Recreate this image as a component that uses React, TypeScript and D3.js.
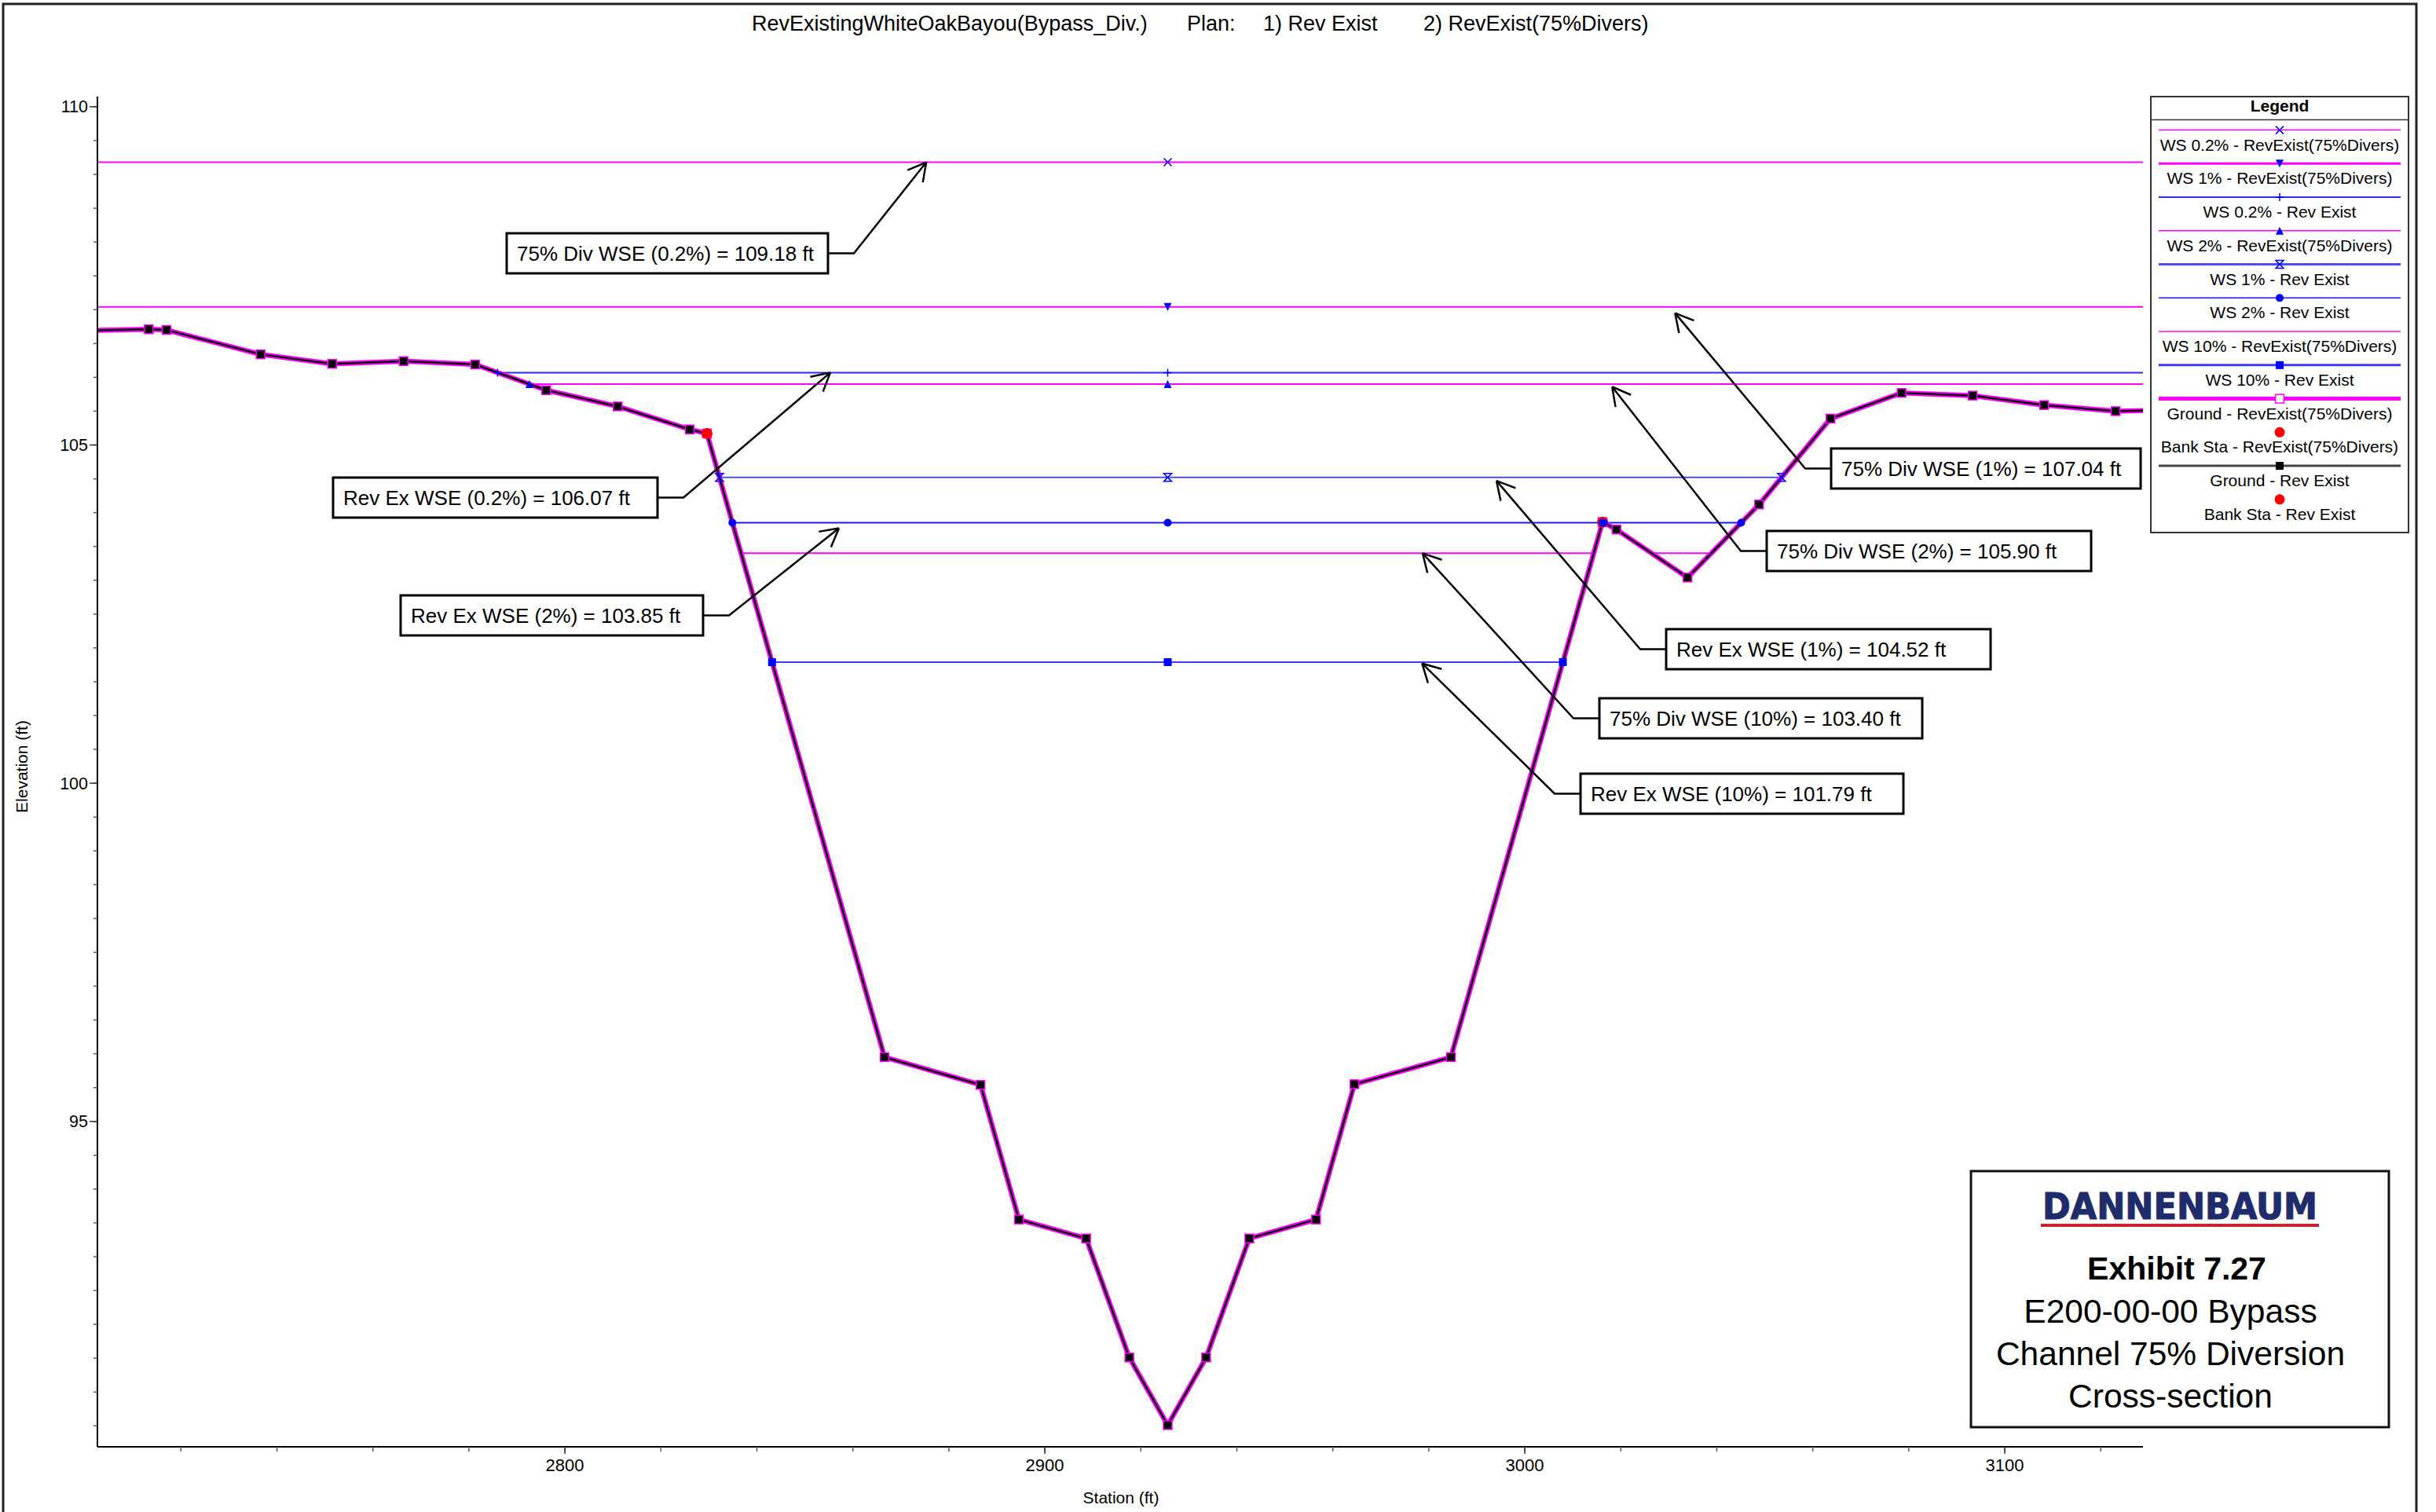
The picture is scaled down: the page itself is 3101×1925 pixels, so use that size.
import * as d3 from 'd3'

// ground profile (both plans share the same ground)
const stations = [2698, 2713.3, 2717.0, 2736.6, 2751.5, 2766.4, 2781.3, 2796.1, 2811.0, 2826.0, 2829.6, 2866.6, 2886.6, 2894.6, 2908.6, 2917.6, 2925.6, 2933.6, 2942.6, 2956.5, 2964.5, 2984.6, 3016.2, 3019.1, 3033.9, 3048.8, 3063.7, 3078.5, 3093.3, 3108.2, 3123.1, 3138]
const groundElev = [106.69, 106.71, 106.70, 106.34, 106.20, 106.24, 106.19, 105.81, 105.57, 105.23, 105.17, 95.95, 95.54, 93.55, 93.27, 91.51, 90.51, 91.51, 93.27, 93.55, 95.55, 95.95, 103.86, 103.75, 103.04, 104.12, 105.39, 105.77, 105.73, 105.59, 105.50, 105.52]
const bankStations = [2829.6, 3016.2]
const bankElevs = [105.17, 103.86]

// water surfaces
const wsLabels = ['WS 0.2% - RevExist(75%Divers)', 'WS 1% - RevExist(75%Divers)', 'WS 0.2% - Rev Exist', 'WS 2% - RevExist(75%Divers)', 'WS 1% - Rev Exist', 'WS 2% - Rev Exist', 'WS 10% - RevExist(75%Divers)', 'WS 10% - Rev Exist']
const wsElevs = [109.18, 107.04, 106.07, 105.9, 104.52, 103.85, 103.4, 101.79]

// callouts
const noteTexts = ['75% Div WSE (0.2%) = 109.18 ft', 'Rev Ex WSE (0.2%) = 106.07 ft', 'Rev Ex WSE (2%) = 103.85 ft', '75% Div WSE (1%) = 107.04 ft', '75% Div WSE (2%) = 105.90 ft', 'Rev Ex WSE (1%) = 104.52 ft', '75% Div WSE (10%) = 103.40 ft', 'Rev Ex WSE (10%) = 101.79 ft']
const noteTipSta = [2875.3, 2855.3, 2857.1, 3031.3, 3018.2, 2994.1, 2978.7, 2978.6]
const noteTipElev = [109.18, 106.07, 103.77, 106.95, 105.86, 104.47, 103.4, 101.77]

const xTicks = [2800, 2900, 3000, 3100]
const yTicks = [95, 100, 105, 110]

const titleParts = ['RevExistingWhiteOakBayou(Bypass_Div.)', 'Plan:', '1) Rev Exist', '2) RevExist(75%Divers)']
const exhibitLines = ['E200-00-00 Bypass', 'Channel 75% Diversion', 'Cross-section']

// ---- layout / styles ----
const W = 3101
const H = 1925
const FONT = '"Liberation Sans", Arial, sans-serif'
const MAG = '#ff00ff'
const wsStyle = [
  { color: MAG, width: 2, lw: 1.5, marker: 'x' },
  { color: MAG, width: 2, lw: 3, marker: 'tdown' },
  { color: '#2a2aff', width: 2, lw: 2, marker: 'plus' },
  { color: MAG, width: 2, lw: 1.5, marker: 'tup' },
  { color: '#4b4bff', width: 2, lw: 3, marker: 'hour' },
  { color: '#1a1aff', width: 2, lw: 1.5, marker: 'circle' },
  { color: MAG, width: 2, lw: 1.5, marker: 'none' },
  { color: '#3a3aff', width: 2, lw: 3, marker: 'square' },
]
const titleX = [957, 1511, 1608, 1812]
const noteBoxes = [
  [645, 297, 409], [424, 608, 413], [510, 758, 385], [2331, 571, 394],
  [2249, 676, 413], [2121, 801, 413], [2036, 889, 411], [2012, 985, 411],
]

const x = d3.scaleLinear().domain([2702.6, 3128.8]).range([124, 2728])
const y = d3.scaleLinear().domain([90.19, 110.15]).range([1842, 123])

// spans of a water surface where the ground lies below it
function wetSegments(wse: number) {
  const segs: [number, number][] = []
  let cur: number | null = groundElev[0] < wse ? stations[0] : null
  for (let i = 1; i < stations.length; i++) {
    const wet = groundElev[i] < wse
    const wasWet = groundElev[i - 1] < wse
    if (wet !== wasWet) {
      const t = (wse - groundElev[i - 1]) / (groundElev[i] - groundElev[i - 1])
      const s = stations[i - 1] + t * (stations[i] - stations[i - 1])
      if (wet) cur = s
      else {
        segs.push([cur as number, s])
        cur = null
      }
    }
  }
  if (cur !== null) segs.push([cur, stations[stations.length - 1]])
  return segs
}

function Marker({ type, cx, cy, color = '#0000ff' }: { type: string; cx: number; cy: number; color?: string }) {
  const s = 5
  switch (type) {
    case 'x':
      return <path d={`M${cx - s},${cy - s}L${cx + s},${cy + s}M${cx - s},${cy + s}L${cx + s},${cy - s}`} stroke={color} strokeWidth={1.5} />
    case 'plus':
      return <path d={`M${cx - s},${cy}L${cx + s},${cy}M${cx},${cy - s}L${cx},${cy + s}`} stroke={color} strokeWidth={1.5} />
    case 'tdown':
      return <path d={`M${cx - s},${cy - s}L${cx + s},${cy - s}L${cx},${cy + s}Z`} fill={color} />
    case 'tup':
      return <path d={`M${cx - s},${cy + s}L${cx + s},${cy + s}L${cx},${cy - s}Z`} fill={color} />
    case 'hour':
      return <path d={`M${cx - s},${cy - s}L${cx + s},${cy - s}L${cx - s},${cy + s}L${cx + s},${cy + s}Z`} fill="none" stroke={color} strokeWidth={1.5} />
    case 'circle':
      return <circle cx={cx} cy={cy} r={s} fill={color} />
    case 'square':
      return <rect x={cx - s} y={cy - s} width={2 * s} height={2 * s} fill={color} />
    default:
      return null
  }
}

export default function App() {
  const groundLine = d3.line<number>().x((_, i) => x(stations[i])).y((d) => y(d))(groundElev) || ''
  const thalweg = stations[groundElev.indexOf(d3.min(groundElev) as number)]
  const xMinor = d3.range(2720, 3129, 20)
  const yMinor = d3.range(90.5, 110.01, 0.5)

  const wsSegs = wsElevs.map((e) => wetSegments(e))

  const legX0 = 2738
  const legX1 = 3066
  const legCx = (legX0 + legX1) / 2
  const rowY = (i: number) => 165.6 + i * 42.75
  const exCx = 2763

  return (
    <svg width={W} height={H} style={{ position: 'absolute', left: 0, top: 0, display: 'block', background: '#fff' }} fontFamily={FONT}>
      <defs>
        <clipPath id="plotClip">
          <rect x={124} y={123} width={2728 - 124} height={1842 - 123} />
        </clipPath>
      </defs>
      <rect x={0} y={0} width={W} height={H} fill="#fff" />
      {/* outer frame */}
      <rect x={4} y={5} width={3072} height={1940} fill="none" stroke="#222" strokeWidth={3} />

      {/* title */}
      {titleParts.map((t, i) => (
        <text key={t} x={titleX[i]} y={39} fontSize={27} fill="#000">{t}</text>
      ))}

      {/* water surfaces */}
      <g clipPath="url(#plotClip)">
        {wsSegs.map((segs, i) =>
          segs.map(([a, b], j) => (
            <line key={`ws${i}-${j}`} x1={x(a)} x2={x(b)} y1={y(wsElevs[i])} y2={y(wsElevs[i])} stroke={wsStyle[i].color} strokeWidth={wsStyle[i].width} />
          )),
        )}
        {/* ground */}
        <path d={groundLine} fill="none" stroke={MAG} strokeWidth={6.5} strokeLinejoin="round" />
        <path d={groundLine} fill="none" stroke="#000" strokeWidth={2.5} strokeLinejoin="round" />
        {stations.map((s, i) => (
          <rect key={`g${i}`} x={x(s) - 5.5} y={y(groundElev[i]) - 5.5} width={11} height={11} fill="#000" stroke={MAG} strokeWidth={1.5} />
        ))}
        {bankStations.map((s, i) => (
          <circle key={`b${i}`} cx={x(s)} cy={y(bankElevs[i])} r={7} fill="#ff0000" />
        ))}
        {wsSegs.map((segs, i) => {
          const pts = [thalweg, ...segs.flat()]
          return pts.map((s, j) => <Marker key={`m${i}-${j}`} type={wsStyle[i].marker} cx={x(s)} cy={y(wsElevs[i])} />)
        })}
      </g>

      {/* axes */}
      <line x1={124} x2={124} y1={123} y2={1842} stroke="#000" strokeWidth={2} />
      <line x1={124} x2={2728} y1={1842} y2={1842} stroke="#000" strokeWidth={2} />
      {yMinor.map((v) => (
        <line key={`ym${v}`} x1={119} x2={124} y1={y(v)} y2={y(v)} stroke="#555" strokeWidth={1.5} />
      ))}
      {yTicks.map((v) => (
        <g key={`yt${v}`}>
          <line x1={114} x2={124} y1={y(v)} y2={y(v)} stroke="#333" strokeWidth={1.5} />
          <text x={112} y={y(v) + 7.5} fontSize={21.5} textAnchor="end">{v}</text>
        </g>
      ))}
      {xMinor.map((v) => (
        <line key={`xm${v}`} x1={x(v)} x2={x(v)} y1={1842} y2={1848} stroke="#555" strokeWidth={1.5} />
      ))}
      {xTicks.map((v) => (
        <g key={`xt${v}`}>
          <line x1={x(v)} x2={x(v)} y1={1842} y2={1851} stroke="#333" strokeWidth={1.5} />
          <text x={x(v)} y={1873} fontSize={22} textAnchor="middle">{v}</text>
        </g>
      ))}
      <text x={1427} y={1914} fontSize={21} textAnchor="middle">Station (ft)</text>
      <text transform="translate(35,976) rotate(-90)" fontSize={21} textAnchor="middle">Elevation (ft)</text>

      {/* callouts */}
      {noteTexts.map((t, i) => {
        const [bx, by, bw] = noteBoxes[i]
        const bh = 51
        const tx = x(noteTipSta[i])
        const ty = y(noteTipElev[i])
        const rightSide = tx > bx + bw / 2
        const sx = rightSide ? bx + bw : bx
        const ex = rightSide ? sx + 33 : sx - 33
        const ey = by + bh / 2
        const a = Math.atan2(ty - ey, tx - ex)
        const L = 26
        const th = 0.5
        const arm = (d: number) => `M${tx - L * Math.cos(a + d)},${ty - L * Math.sin(a + d)}L${tx},${ty}`
        return (
          <g key={t}>
            <path d={`M${sx},${ey}L${ex},${ey}L${tx},${ty}`} fill="none" stroke="#000" strokeWidth={2.5} />
            <path d={`${arm(th)}${arm(-th)}`} fill="none" stroke="#000" strokeWidth={2.5} />
            <rect x={bx} y={by} width={bw} height={bh} fill="#fff" stroke="#000" strokeWidth={3} />
            <text x={bx + 13} y={ey + 9.5} fontSize={26}>{t}</text>
          </g>
        )
      })}

      {/* legend */}
      <rect x={legX0} y={123} width={legX1 - legX0} height={555} fill="#fff" stroke="#333" strokeWidth={2} />
      <text x={legCx} y={142} fontSize={21} fontWeight="bold" textAnchor="middle">Legend</text>
      <line x1={legX0} x2={legX1} y1={152.5} y2={152.5} stroke="#333" strokeWidth={1.5} />
      {wsLabels.map((l, i) => (
        <g key={l}>
          <line x1={2748} x2={3056} y1={rowY(i)} y2={rowY(i)} stroke={wsStyle[i].color} strokeWidth={wsStyle[i].lw} />
          <Marker type={wsStyle[i].marker} cx={legCx} cy={rowY(i)} />
          <text x={legCx} y={rowY(i) + 26} fontSize={21} textAnchor="middle">{l}</text>
        </g>
      ))}
      <g>
        <line x1={2748} x2={3056} y1={rowY(8)} y2={rowY(8)} stroke={MAG} strokeWidth={5} />
        <rect x={legCx - 5.5} y={rowY(8) - 5.5} width={11} height={11} fill="#fff" stroke={MAG} strokeWidth={1.5} />
        <text x={legCx} y={rowY(8) + 26} fontSize={21} textAnchor="middle">Ground - RevExist(75%Divers)</text>
        <circle cx={legCx} cy={rowY(9)} r={6.5} fill="#ff0000" />
        <text x={legCx} y={rowY(9) + 26} fontSize={21} textAnchor="middle">Bank Sta - RevExist(75%Divers)</text>
        <line x1={2748} x2={3056} y1={rowY(10)} y2={rowY(10)} stroke="#444" strokeWidth={3} />
        <rect x={legCx - 5} y={rowY(10) - 5} width={10} height={10} fill="#000" />
        <text x={legCx} y={rowY(10) + 26} fontSize={21} textAnchor="middle">Ground - Rev Exist</text>
        <circle cx={legCx} cy={rowY(11)} r={6.5} fill="#ff0000" />
        <text x={legCx} y={rowY(11) + 26} fontSize={21} textAnchor="middle">Bank Sta - Rev Exist</text>
      </g>

      {/* exhibit block */}
      <rect x={2509} y={1491} width={532} height={326} fill="#fff" stroke="#111" strokeWidth={3} />
      <text x={2775} y={1552} fontSize={47} fontWeight="bold" fontFamily='"DejaVu Sans", Arial, sans-serif' fill="#1f2c6c" stroke="#1f2c6c" strokeWidth={1.2} textAnchor="middle" textLength={350} lengthAdjust="spacingAndGlyphs">DANNENBAUM</text>
      <rect x={2598} y={1558} width={354} height={4} fill="#c4262e" />
      <text x={2771} y={1629} fontSize={41} fontWeight="bold" textAnchor="middle">Exhibit 7.27</text>
      {exhibitLines.map((t, i) => (
        <text key={t} x={exCx} y={1684 + i * 54} fontSize={42.5} textAnchor="middle">{t}</text>
      ))}
    </svg>
  )
}
